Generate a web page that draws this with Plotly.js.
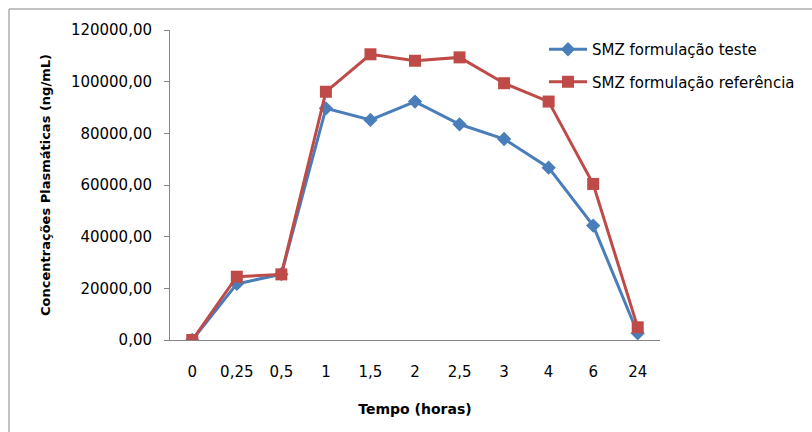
<!DOCTYPE html>
<html>
<head>
<meta charset="utf-8">
<script src="https://cdn.plot.ly/plotly-3.0.1.min.js"></script>
<style>
  html, body { margin: 0; padding: 0; background: #ffffff; }
  #chart { width: 812px; height: 432px; }
</style>
</head>
<body>
<div id="chart"></div>
<script>
  // Time points (hours), shown as categories
  var tempos = ['0', '0,25', '0,5', '1', '1,5', '2', '2,5', '3', '4', '6', '24'];

  // Plasma concentrations (ng/mL)
  var smzTeste = [0, 21700, 25500, 89700, 85200, 92300, 83500, 77800, 66700, 44300, 2600];
  var smzReferencia = [0, 24500, 25400, 96100, 110600, 108100, 109400, 99400, 92300, 60400, 4900];

  var FONT = 'DejaVu Sans, sans-serif';
  var AXIS_GREY = '#868686';

  var traceTeste = {
    type: 'scatter',
    mode: 'lines+markers',
    name: 'SMZ formulação teste',
    x: tempos,
    y: smzTeste,
    legendgroup: 'teste',
    line: { color: '#4a7ebb', width: 3 },
    marker: { symbol: 'diamond', size: 11, color: '#4a7ebb' }
  };

  var traceReferencia = {
    type: 'scatter',
    mode: 'lines+markers',
    name: 'SMZ formulação referência',
    x: tempos,
    y: smzReferencia,
    legendgroup: 'referencia',
    line: { color: '#be4b48', width: 3 },
    marker: { symbol: 'square', size: 12, color: '#be4b48' }
  };

  var layout = {
    width: 812,
    height: 432,
    paper_bgcolor: '#ffffff',
    plot_bgcolor: '#ffffff',
    separators: ',.',
    font: { family: FONT, size: 14, color: '#000000' },
    margin: { l: 170, r: 152, t: 30, b: 92, autoexpand: false },
    showlegend: true,
    legend: {
      xref: 'container', yref: 'container',
      x: 544 / 812, xanchor: 'left',
      y: 1 - 33 / 432, yanchor: 'top',
      itemwidth: 38,
      bgcolor: 'rgba(0,0,0,0)',
      borderwidth: 0,
      traceorder: 'grouped',
      tracegroupgap: 10,
      font: { family: FONT, size: 15, color: '#000000' }
    },
    xaxis: {
      type: 'category',
      range: [-0.5, 10.5],
      automargin: false,
      showline: true,
      linecolor: AXIS_GREY,
      linewidth: 1,
      showgrid: false,
      zeroline: false,
      ticks: '',
      tickfont: { family: FONT, size: 15, color: '#000000' },
      ticklabelstandoff: 18,
      title: {
        text: 'Tempo (horas)',
        font: { family: FONT, size: 14, color: '#000000', weight: 'bold' },
        standoff: 24
      }
    },
    yaxis: {
      range: [0, 120000],
      dtick: 20000,
      tickformat: '.2f',
      automargin: false,
      showline: true,
      linecolor: AXIS_GREY,
      linewidth: 1,
      showgrid: false,
      zeroline: false,
      ticks: 'outside',
      ticklen: 5,
      tickcolor: AXIS_GREY,
      tickfont: { family: FONT, size: 15, color: '#000000' },
      ticklabelstandoff: 9,
      title: {
        text: 'Concentrações Plasmáticas (ng/mL)',
        font: { family: FONT, size: 13, color: '#000000', weight: 'bold' },
        standoff: 17
      }
    },
    shapes: [{
      type: 'rect',
      xref: 'paper', yref: 'paper',
      x0: -161 / 490, x1: 643 / 490,
      y0: -93 / 310, y1: 331 / 310,
      line: { color: '#868686', width: 1 },
      fillcolor: 'rgba(0,0,0,0)',
      layer: 'below'
    }]
  };

  var config = { displayModeBar: false, staticPlot: true };

  Plotly.newPlot('chart', [traceTeste, traceReferencia], layout, config);
</script>
</body>
</html>
